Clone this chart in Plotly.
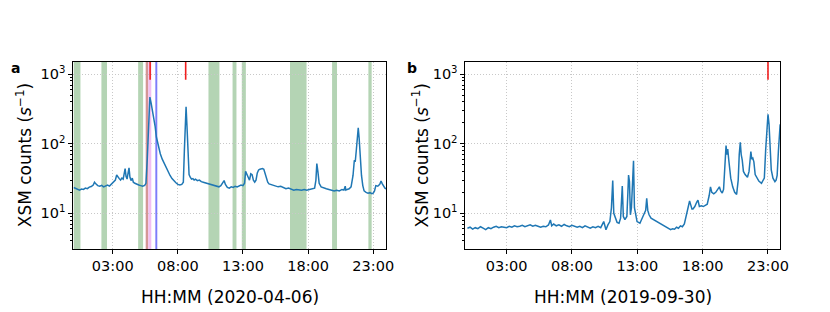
import plotly.graph_objects as go

# ---------------- data (hours of day, counts s^-1) ----------------
hours_a = [0.00, 0.15, 0.30, 0.45, 0.60, 0.75, 0.90, 1.05, 1.20, 1.35, 1.50, 1.60, 1.70, 1.85, 2.00,
           2.15, 2.30, 2.45, 2.60, 2.75, 2.90, 3.05, 3.20, 3.30, 3.40, 3.50, 3.60, 3.70, 3.80, 3.88,
           3.95, 4.02, 4.10, 4.18, 4.25, 4.32, 4.40, 4.50, 4.58, 4.70, 4.85, 5.00, 5.15, 5.30, 5.45,
           5.55, 5.65, 5.75, 5.85, 5.95, 6.05, 6.15, 6.25, 6.35, 6.45, 6.55, 6.65, 6.80, 6.95, 7.10,
           7.25, 7.40, 7.55, 7.70, 7.85, 8.00, 8.15, 8.30, 8.42, 8.50, 8.58, 8.63, 8.70, 8.78, 8.86,
           8.95, 9.05, 9.15, 9.25, 9.35, 9.50, 9.65, 9.80, 9.95, 10.10, 10.25, 10.40, 10.55, 10.70, 10.85,
           11.00, 11.15, 11.30, 11.45, 11.55, 11.65, 11.80, 11.95, 12.10, 12.25, 12.40, 12.55, 12.70, 12.85, 13.00,
           13.12, 13.20, 13.30, 13.40, 13.50, 13.60, 13.70, 13.80, 13.90, 14.00, 14.10, 14.20, 14.30, 14.40, 14.50,
           14.60, 14.70, 14.80, 14.90, 15.00, 15.15, 15.30, 15.50, 15.70, 15.90, 16.10, 16.30, 16.50, 16.70, 16.90,
           17.10, 17.30, 17.50, 17.70, 17.90, 18.10, 18.30, 18.50, 18.60, 18.67, 18.75, 18.85, 19.00, 19.20, 19.40,
           19.60, 19.80, 20.00, 20.20, 20.40, 20.60, 20.75, 20.85, 20.90, 21.00, 21.15, 21.30, 21.45, 21.55, 21.62,
           21.70, 21.80, 21.85, 21.92, 22.00, 22.10, 22.20, 22.30, 22.45, 22.60, 22.75, 22.90, 23.00, 23.10, 23.20,
           23.35, 23.50, 23.60, 23.70, 23.80, 23.90, 24.00]
counts_a = [23.5, 22.8, 22.0, 21.5, 22.3, 22.0, 23.0, 22.6, 23.8, 24.2, 25.5, 28.0, 26.5, 25.0, 24.5,
            25.2, 24.0, 24.8, 25.5, 24.6, 26.0, 27.5, 30.0, 35.5, 33.0, 31.5, 30.0, 32.0, 31.0, 40.0,
            44.0, 34.0, 31.0, 38.0, 45.0, 33.0, 29.5, 32.0, 28.0, 27.0, 26.0, 25.5, 25.0, 24.5, 25.2,
            27.0, 60.0, 250.0, 470.0, 380.0, 300.0, 240.0, 180.0, 125.0, 100.0, 85.0, 72.0, 60.0, 52.0, 45.0,
            39.0, 35.0, 31.5, 29.0, 27.5, 26.0, 25.5, 26.0, 28.0, 80.0, 300.0, 340.0, 180.0, 60.0, 36.0,
            33.0, 31.0, 31.5, 30.0, 31.0, 29.5, 30.0, 28.5, 28.0, 27.5, 27.0, 26.5, 26.0, 25.5, 25.0,
            24.5, 24.0, 25.0, 28.5, 29.5, 26.0, 23.5, 23.0, 24.0, 23.5, 24.5, 24.0, 25.0, 25.5, 25.0,
            27.0, 40.0, 37.0, 33.0, 30.0, 37.0, 36.0, 30.0, 28.0, 30.0, 38.0, 42.0, 43.0, 44.0, 44.0,
            43.0, 36.0, 31.0, 28.0, 26.5, 26.0, 25.5, 25.0, 24.0, 24.5, 23.5, 22.5, 23.0, 22.0, 21.5,
            22.0, 21.8, 21.5, 22.0, 21.5, 22.0, 22.5, 23.0, 30.0, 52.0, 40.0, 27.0, 24.0, 23.0, 22.5,
            22.0, 21.5, 21.0, 21.5, 21.0, 22.0, 21.5, 24.5, 21.5, 22.0, 22.5, 24.0, 35.0, 58.0, 55.0,
            80.0, 150.0, 170.0, 120.0, 60.0, 35.0, 25.0, 21.0, 20.0, 19.5, 19.8, 19.2, 19.5, 21.0, 25.0,
            24.5, 26.0, 29.0, 26.5, 24.0, 23.0, 22.5]

hours_b = [0.0, 0.2, 0.4, 0.6, 0.8, 1.0, 1.2, 1.4, 1.6, 1.8, 2.0, 2.2, 2.4, 2.6, 2.8,
           3.0, 3.2, 3.4, 3.6, 3.8, 4.0, 4.2, 4.4, 4.6, 4.8, 5.0, 5.2, 5.4, 5.6, 5.8,
           6.0, 6.2, 6.35, 6.45, 6.6, 6.8, 7.0, 7.2, 7.4, 7.6, 7.8, 8.0, 8.2, 8.4, 8.6,
           8.8, 9.0, 9.2, 9.4, 9.6, 9.8, 10.0, 10.2, 10.43, 10.6, 10.75, 10.9, 11.02, 11.12, 11.2,
           11.28, 11.45, 11.6, 11.72, 11.85, 11.93, 12.05, 12.2, 12.28, 12.33, 12.4, 12.47, 12.55, 12.63, 12.71,
           12.78, 12.86, 12.98, 13.2, 13.4, 13.54, 13.64, 13.72, 13.8, 13.9, 14.05, 14.3, 14.5, 14.73, 14.95,
           15.1, 15.24, 15.4, 15.55, 15.7, 15.85, 16.0, 16.15, 16.3, 16.45, 16.6, 16.75, 16.9, 17.0, 17.1,
           17.18, 17.26, 17.4, 17.55, 17.64, 17.75, 17.9, 18.05, 18.2, 18.35, 18.5, 18.6, 18.7, 18.85, 19.0,
           19.15, 19.28, 19.38, 19.5, 19.6, 19.7, 19.79, 19.86, 19.92, 20.0, 20.15, 20.3, 20.45, 20.6, 20.72,
           20.8, 20.88, 20.95, 21.03, 21.12, 21.25, 21.43, 21.55, 21.69, 21.76, 21.84, 21.92, 22.02, 22.15, 22.3,
           22.5, 22.62, 22.72, 22.82, 22.9, 23.0, 23.08, 23.15, 23.25, 23.38, 23.53, 23.62, 23.7, 23.8, 23.88,
           23.93]
counts_b = [6.1, 6.3, 5.9, 6.2, 6.0, 6.4, 6.1, 5.8, 6.2, 6.0, 6.3, 6.5, 6.2, 6.4, 6.3,
            6.2, 6.5, 6.3, 6.6, 6.4, 6.5, 6.7, 6.4, 6.6, 6.8, 6.5, 6.7, 6.5, 6.3, 6.5,
            6.4, 6.8, 8.0, 6.6, 7.0, 6.6, 6.8, 6.5, 6.9, 6.6, 6.4, 6.7, 6.5, 6.3, 6.5,
            6.2, 6.6, 6.3, 6.1, 6.4, 6.2, 6.5, 6.2, 7.6, 5.8, 6.8, 7.6, 12.0, 29.5, 10.0,
            8.9, 7.4, 7.2, 8.5, 24.7, 9.0, 8.1, 9.0, 20.0, 35.5, 28.5, 9.5, 12.0, 30.0, 57.0,
            12.0, 10.0, 7.6, 7.2, 8.5, 10.0, 11.0, 16.4, 11.0, 9.5, 8.5, 8.0, 7.6, 7.2, 6.8,
            6.4, 6.3, 6.0, 5.8, 6.0, 5.9, 6.3, 6.1, 6.6, 6.4, 7.0, 9.4, 13.0, 15.0, 13.0,
            11.5, 11.5, 12.5, 14.5, 15.5, 12.5, 12.8, 12.5, 13.0, 13.5, 18.0, 24.0, 20.0, 19.0, 20.0,
            22.0, 24.0, 21.0, 19.5, 22.0, 40.0, 94.0, 70.0, 84.0, 58.0, 32.0, 24.0, 20.0, 18.7, 30.0,
            70.0, 105.0, 70.0, 58.0, 40.0, 36.0, 33.0, 40.0, 77.0, 60.0, 62.0, 55.0, 36.0, 32.0, 29.0,
            27.0, 30.0, 32.0, 80.0, 134.0, 266.0, 190.0, 107.0, 42.0, 32.0, 28.5, 30.0, 35.0, 80.0, 166.0,
            190.0]

# shaded intervals (hours) in panel a
green_spans_a = [(0.0, 0.52), (2.13, 2.56), (4.95, 5.33), (10.35, 11.19), (12.2, 12.5),
                 (12.91, 13.22), (16.61, 17.88), (19.84, 20.22), (22.63, 22.88)]
brown_span_a = (5.53, 5.73)
pink_span_a = (5.73, 5.96)
blue_span_a = (6.27, 6.42)
flare_marks_a = [5.87, 8.6]
flare_marks_b = [23.0]

tick_hours = [3, 8, 13, 18, 23]
tick_labels = ["03:00", "08:00", "13:00", "18:00", "23:00"]
ytick_vals = [10, 100, 1000]
ytick_text = ["10<sup>1</sup>", "10<sup>2</sup>", "10<sup>3</sup>"]
minor_vals = [m * d for d in (1, 10, 100) for m in range(2, 10)]

W, H = 830, 312
def px(x):
    return x / W
def py(y):
    return 1 - y / H

FONT = "DejaVu Sans"
blue = "#1f77b4"
GRID = "#c8c8c8"
GRIDDASH = "1px,2px"

fig = go.Figure()
fig.add_trace(go.Scatter(x=hours_a, y=counts_a, mode="lines", line=dict(color=blue, width=1.5),
                         xaxis="x", yaxis="y", showlegend=False, hoverinfo="skip"))
fig.add_trace(go.Scatter(x=hours_b, y=counts_b, mode="lines", line=dict(color=blue, width=1.5),
                         xaxis="x2", yaxis="y2", showlegend=False, hoverinfo="skip"))

shapes = []
for s, e in green_spans_a:
    shapes.append(dict(type="rect", xref="x", yref="y domain", x0=s, x1=e, y0=0, y1=1,
                       fillcolor="rgb(180,212,180)", line=dict(width=0), layer="below"))
for (s, e), col in [(brown_span_a, "rgb(212,150,150)"), (pink_span_a, "rgb(242,190,242)"),
                    (blue_span_a, "rgb(125,125,250)")]:
    shapes.append(dict(type="rect", xref="x", yref="y domain", x0=s, x1=e, y0=0, y1=1,
                       fillcolor=col, line=dict(width=0), layer="below"))
for h in flare_marks_a:
    shapes.append(dict(type="line", xref="x", yref="y domain", x0=h, x1=h, y0=0.905, y1=1,
                       line=dict(color="rgb(240,30,30)", width=1.6)))
for h in flare_marks_b:
    shapes.append(dict(type="line", xref="x2", yref="y2 domain", x0=h, x1=h, y0=0.905, y1=1,
                       line=dict(color="rgb(240,30,30)", width=1.6)))

ydom = [py(249), py(62)]
common_x = dict(tickmode="array", tickvals=tick_hours, ticktext=tick_labels, showgrid=True,
                gridcolor=GRID, griddash=GRIDDASH, gridwidth=1, showline=True, linecolor="black",
                linewidth=1, mirror=True, ticks="outside", ticklen=4, tickcolor="black",
                tickfont=dict(family=FONT, size=14.5, color="black"), zeroline=False)
common_y = dict(type="log", range=[0.486, 3.176], tickmode="array", tickvals=ytick_vals,
                ticktext=ytick_text, showgrid=True, gridcolor=GRID, griddash=GRIDDASH, gridwidth=1,
                showline=True, linecolor="black", linewidth=1, mirror=True, ticks="outside",
                ticklen=4, tickcolor="black", tickfont=dict(family=FONT, size=14.5, color="black"),
                zeroline=False,
                minor=dict(tickmode="array", tickvals=minor_vals, ticks="outside", ticklen=2,
                           tickcolor="black", showgrid=False))

fig.update_layout(
    width=W, height=H, margin=dict(l=0, r=0, t=0, b=0),
    paper_bgcolor="white", plot_bgcolor="white",
    xaxis=dict(domain=[px(74), px(390)], range=[-0.03, 24.0], anchor="y", **common_x),
    yaxis=dict(domain=ydom, anchor="x", **common_y),
    xaxis2=dict(domain=[px(470), px(788)], range=[-0.15, 23.95], anchor="y2", **common_x),
    yaxis2=dict(domain=ydom, anchor="x2", **common_y),
    shapes=shapes,
    font=dict(family=FONT, color="black"),
)

ann = []
for xc, date in [((74 + 390) / 2, "2020-04-06"), ((470 + 788) / 2, "2019-09-30")]:
    ann.append(dict(text=f"HH:MM ({date})", x=px(xc), y=py(297), xref="paper", yref="paper",
                    showarrow=False, xanchor="center", yanchor="middle",
                    font=dict(family=FONT, size=17, color="black")))
for xc in [24, 424]:
    ann.append(dict(text="XSM counts (<i>s</i><sup>−1</sup>)", x=px(xc), y=py(155.5),
                    xref="paper", yref="paper", showarrow=False, textangle=-90,
                    xanchor="center", yanchor="middle",
                    font=dict(family=FONT, size=17, color="black")))
for xc, lab in [(16, "a"), (416, "b")]:
    ann.append(dict(text=f"<b>{lab}</b>", x=px(xc), y=py(68), xref="paper", yref="paper",
                    showarrow=False, xanchor="center", yanchor="middle",
                    font=dict(family=FONT, size=14, color="black")))
fig.update_layout(annotations=ann)

# remove the default 8px page margin so the figure sits at the window's top-left corner
fig.write_html("out.html", config={"displayModeBar": False},
               post_script="document.body.style.margin='0px';document.body.style.overflow='hidden';")
